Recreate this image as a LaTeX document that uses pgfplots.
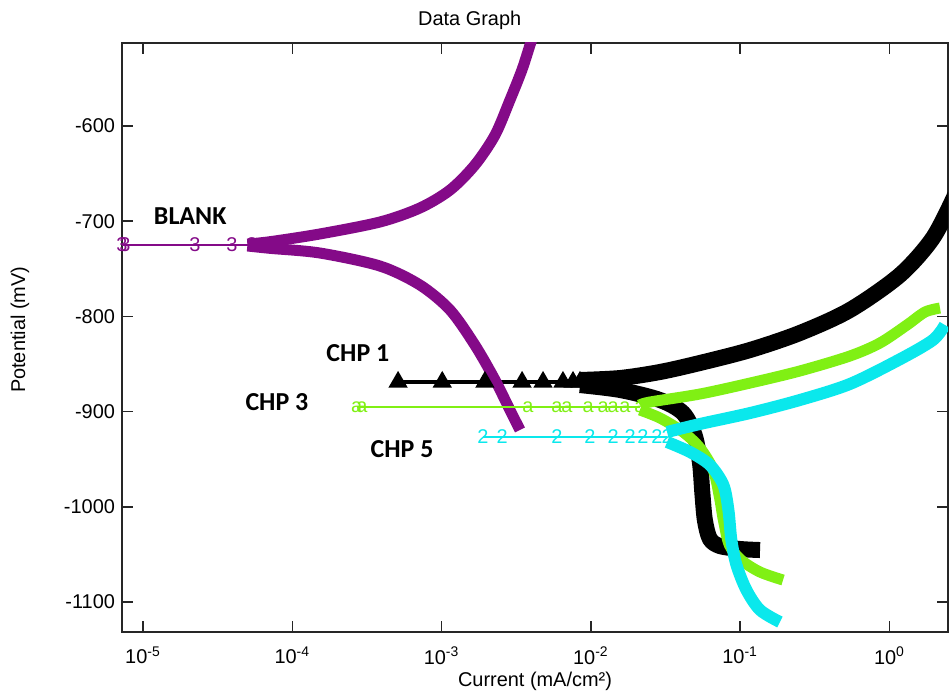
\documentclass[border=0pt]{standalone}
\usepackage{fontspec}
\setmainfont{Liberation Sans}
\newfontfamily\lblfont{Carlito}
\usepackage{pgfplots}
\pgfplotsset{compat=1.18}

\definecolor{blankc}{RGB}{132,10,136}
\definecolor{chpthree}{RGB}{128,240,20}
\definecolor{chpfive}{RGB}{10,232,236}

\begin{document}
\begin{tikzpicture}
\begin{axis}[
    scale only axis, width=413bp, height=294.5bp,
    xmode=log, xmin=7.23e-6, xmax=2.466,
    ymin=-1131.5, ymax=-512.8,
    xtick={1e-5,1e-4,1e-3,1e-2,1e-1,1},
    xticklabels={10\textsuperscript{-5},10\textsuperscript{-4},10\textsuperscript{-3},10\textsuperscript{-2},10\textsuperscript{-1},10\textsuperscript{0}},
    xminorticks=false,
    ytick={-1100,-1000,-900,-800,-700,-600},
    yticklabels={-1100,-1000,-900,-800,-700,-600},
    tick align=inside, major tick length=5.5bp,
    axis line style={line width=0.8bp,black!85},
    every tick/.style={black!85,line width=0.8bp},
    tick label style={font=\fontsize{10}{12}\selectfont},
    xticklabel style={yshift=-4bp},
    label style={font=\fontsize{10}{12}\selectfont},
    xlabel={Current (mA/cm²)},
    ylabel={Potential (mV)},
    xlabel style={at={(axis description cs:0.5,0)},anchor=center,yshift=-24.5bp},
    ylabel style={at={(axis description cs:-0.1235,0.513)},anchor=center},
    title={Data Graph},
    title style={font=\fontsize{10}{12}\selectfont,at={(axis description cs:0.421,1)},anchor=south,yshift=-3bp},
]
% CHP 1 (black)
\addplot[black,line width=2bp,mark=triangle*,mark size=3.6bp] coordinates {
 (5.11e-4,-869) (1.01e-3,-869) (1.95e-3,-869) (3.46e-3,-869) (4.78e-3,-869)
 (6.50e-3,-869) (7.59e-3,-869) (8.45e-3,-869)};
\addplot[black,line width=8bp,smooth] coordinates {
 (8.45e-3,-866.8) (1.57e-2,-864.7) (2.90e-2,-858.4) (5.38e-2,-848.9) (0.1164,-835.3)
 (0.2513,-817.4) (0.543,-793.3) (1.175,-756.5) (1.954,-717.6) (2.75,-672.5)};
\addplot[black,line width=8bp,smooth] coordinates {
 (8.45e-3,-872.1) (1.57e-2,-877.3) (2.90e-2,-887.8) (4.14e-2,-901.5) (4.95e-2,-924.6)
 (5.38e-2,-954.0) (5.58e-2,-985.5) (5.80e-2,-1013.9) (6.27e-2,-1033.8) (7.31e-2,-1041.2)
 (9.95e-2,-1044.3) (0.1358,-1045.4)};
% BLANK (purple)
\addplot[blankc,line width=1bp,mark=text,text mark={\color{blankc}\fontsize{10}{10}\selectfont 3}] coordinates {
 (7.23e-6,-725) (7.57e-6,-725) (2.23e-5,-725) (3.94e-5,-725) (5.37e-5,-725) (6.77e-5,-725) (8.5e-5,-725)};
\addplot[blankc,line width=5.5bp,smooth] coordinates {
 (5.0e-5,-724) (7.10e-5,-721.5) (1.53e-4,-713.4) (3.87e-4,-700.8) (7.16e-4,-686.1) (1.14e-3,-667.2)
 (1.67e-3,-641.0) (2.28e-3,-609.5) (2.87e-3,-572.7) (3.45e-3,-541.2) (3.91e-3,-514.9) (4.1e-3,-505)};
\addplot[blankc,line width=5.5bp,smooth] coordinates {
 (5.0e-5,-726) (7.10e-5,-728.5) (1.53e-4,-733.4) (3.87e-4,-747.1) (7.16e-4,-767.0) (1.14e-3,-793.3)
 (1.67e-3,-830.0) (2.28e-3,-866.8) (2.87e-3,-898.3) (3.35e-3,-919.3)};
% CHP 3 (green)
\addplot[chpthree,line width=1bp,mark=text,text mark={\color{chpthree}\fontsize{10}{10}\selectfont a}] coordinates {
 (2.70e-4,-895.2) (2.93e-4,-895.2) (3.79e-3,-895.2) (5.93e-3,-895.2) (6.92e-3,-895.2)
 (9.57e-3,-895.2) (1.21e-2,-895.2) (1.41e-2,-895.2) (1.69e-2,-895.2) (2.13e-2,-895.2)};
\addplot[chpthree,line width=5.5bp,smooth] coordinates {
 (2.13e-2,-893.0) (2.49e-2,-889.9) (5.38e-2,-881.5) (0.1164,-870.0) (0.2513,-857.3)
 (0.543,-841.6) (0.864,-827.9) (1.31,-809.0) (1.73,-795.4) (2.18,-791.2)};
\addplot[chpthree,line width=5.5bp,smooth] coordinates {
 (2.13e-2,-898.3) (2.90e-2,-906.7) (4.14e-2,-921.4) (5.38e-2,-938.2) (6.60e-2,-961.3)
 (7.26e-2,-989.7) (7.72e-2,-1013.9) (8.46e-2,-1040.1) (0.1015,-1055.9) (0.1358,-1068.5) (0.1937,-1076.9)};
% CHP 5 (cyan)
\addplot[chpfive,line width=1bp,mark=text,text mark={\color{chpfive}\fontsize{10}{10}\selectfont 2}] coordinates {
 (1.89e-3,-926.7) (2.54e-3,-926.7) (5.93e-3,-926.7) (9.86e-3,-926.7) (1.41e-2,-926.7)
 (1.83e-2,-926.7) (2.23e-2,-926.7) (2.77e-2,-926.7) (3.24e-2,-926.7)};
\addplot[chpfive,line width=6bp,smooth] coordinates {
 (3.24e-2,-921.4) (5.38e-2,-913.0) (0.1164,-901.5) (0.2513,-887.8) (0.543,-871.0)
 (1.175,-845.0) (1.954,-824.8) (2.35,-809.0)};
\addplot[chpfive,line width=6bp,smooth] coordinates {
 (3.24e-2,-931.9) (4.61e-2,-942.4) (6.27e-2,-956.1) (7.72e-2,-977.1) (8.34e-2,-1003.4)
 (8.73e-2,-1034.9) (9.44e-2,-1061.1) (0.1101,-1087.4) (0.1358,-1108.4) (0.1845,-1121.0)};
% labels
\node[font=\lblfont\bfseries\fontsize{13}{15}\selectfont] at (axis cs:2.07e-5,-694.5) {BLANK};
\node[font=\lblfont\bfseries\fontsize{13}{15}\selectfont] at (axis cs:2.75e-4,-838.4) {CHP 1};
\node[font=\lblfont\bfseries\fontsize{13}{15}\selectfont] at (axis cs:7.89e-5,-889.9) {CHP 3};
\node[font=\lblfont\bfseries\fontsize{13}{15}\selectfont] at (axis cs:5.43e-4,-939.3) {CHP 5};
\end{axis}
\pgfresetboundingbox
\useasboundingbox (-61bp,-32bp) rectangle (414bp,316bp);
\end{tikzpicture}
\end{document}
